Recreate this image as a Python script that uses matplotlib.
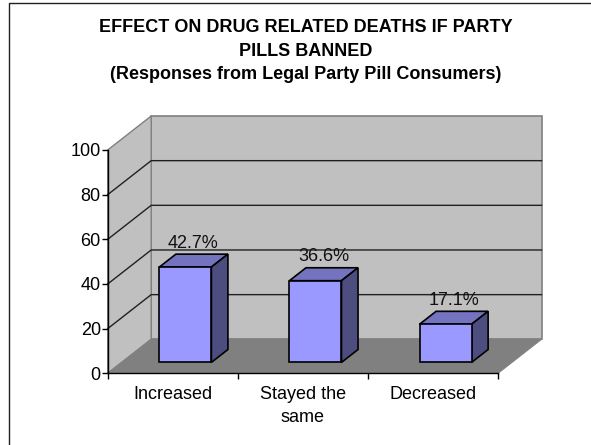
import matplotlib
matplotlib.use('Agg')
import matplotlib.pyplot as plt
from matplotlib.patches import Polygon
from matplotlib.transforms import Affine2D

plt.rcParams['font.family'] = ['Liberation Sans', 'DejaVu Sans']

title = ('EFFECT ON DRUG RELATED DEATHS IF PARTY\nPILLS BANNED\n'
         '(Responses from Legal Party Pill Consumers)')
categories = ['Increased', 'Stayed the\nsame', 'Decreased']
values = [42.7, 36.6, 17.1]
labels = ['42.7%', '36.6%', '17.1%']
yticks = [0, 20, 40, 60, 80, 100]

W, H = 591, 445
fig = plt.figure(figsize=(W / 100, H / 100), dpi=100, facecolor='white')
fig.add_artist(plt.Line2D([9.5 / W, 9.5 / W, 1], [0, 1 - 2.5 / H, 1 - 2.5 / H],
                          transform=fig.transFigure, color='#202020', lw=1.0))

L, R, B, T = 107.7, 498.0, 373.3, 150.0
ax = fig.add_axes([L / W, 1 - B / H, (R - L) / W, (B - T) / H])
ax.set_xlim(0, 3)
ax.set_ylim(0, 100)
ax.patch.set_visible(False)
for s in ('top', 'right'):
    ax.spines[s].set_visible(False)
for s in ('left', 'bottom'):
    ax.spines[s].set_linewidth(1.0)
    ax.spines[s].set_zorder(6)

DX, DY = 43.5, 34.0


def depth(z):
    return ax.transData + Affine2D().translate(DX * z, DY * z)


def poly(pts_z, **kw):
    pts = [depth(z).transform((x, y)) for x, y, z in pts_z]
    p = Polygon(pts, closed=True, transform=None, clip_on=False, **kw)
    fig.add_artist(p)
    return p


# walls and floor
poly([(0, 0, 1), (3, 0, 1), (3, 100, 1), (0, 100, 1)], fc='#C0C0C0', ec='#808080', lw=1.2, zorder=1)
poly([(0, 0, 0), (0, 0, 1), (0, 100, 1), (0, 100, 0)], fc='#C0C0C0', ec='#808080', lw=1.0, zorder=1)
poly([(0, 0, 0), (3, 0, 0), (3, 0, 1), (0, 0, 1)], fc='#808080', ec='#808080', lw=0.8, zorder=1.5)

# gridlines
for v in yticks[1:-1]:
    a = depth(0).transform((0, v))
    b = depth(1).transform((0, v))
    c = depth(1).transform((3, v))
    fig.add_artist(plt.Line2D([a[0], b[0], c[0]], [a[1], b[1], c[1]], transform=None,
                              color='#202020', lw=1.0, zorder=2))

# bars
Z0, Z1, BW = 0.32, 0.70, 0.40
for i, (v, lab) in enumerate(zip(values, labels)):
    x0, x1 = i + 0.49 - BW / 2, i + 0.49 + BW / 2
    z = 3 + i * 0.01
    poly([(x0, 0, Z0), (x1, 0, Z0), (x1, v, Z0), (x0, v, Z0)], fc='#9999FF', ec='black', lw=1.2, zorder=z + .002)
    poly([(x0, v, Z0), (x1, v, Z0), (x1, v, Z1), (x0, v, Z1)], fc='#7373BF', ec='black', lw=1.2, zorder=z)
    poly([(x1, 0, Z0), (x1, 0, Z1), (x1, v, Z1), (x1, v, Z0)], fc='#4D4D80', ec='black', lw=1.2, zorder=z + .001)
    px, py = depth(Z0).transform(((x0 + x1) / 2, v))
    fig.text((px + 8) / W, (py + 19.5) / H, lab, ha='center', va='baseline',
             fontsize=13, color='#111111', zorder=7)

ax.set_zorder(5)
ax.set_xticks(range(4))
ax.set_xticklabels([])
ax.set_xticks([0.5, 1.5, 2.5], minor=True)
ax.set_xticklabels(categories, minor=True, fontsize=13, linespacing=1.45)
ax.tick_params(axis='x', which='minor', length=0, pad=9.5)
ax.tick_params(axis='x', which='major', length=4, width=1, direction='out')
ax.set_yticks(yticks)
ax.tick_params(axis='y', length=4, width=1, labelsize=13, pad=1)

fig.text(306 / W, 1 - 19 / H, title, ha='center', va='top', fontsize=13, fontweight='bold', linespacing=1.5)

fig.savefig('out.png', dpi=100)
